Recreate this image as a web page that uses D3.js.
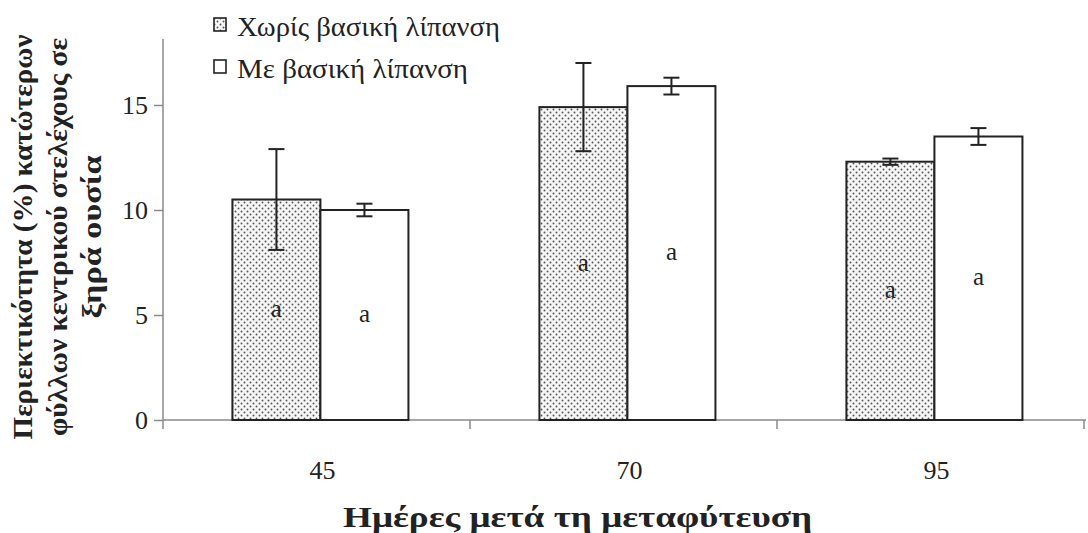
<!DOCTYPE html>
<html><head><meta charset="utf-8">
<script src="https://cdn.jsdelivr.net/npm/d3@7"></script>
<style>html,body{margin:0;padding:0;background:#fff;}svg{display:block;}</style>
</head><body>
<svg id="chart" width="1088" height="533"></svg>
<script>
const categories = ["45", "70", "95"];
const seriesNames = ["Χωρίς βασική λίπανση", "Με βασική λίπανση"];
const valuesWithout = [10.5, 14.9, 12.3];
const errorsWithout = [2.4, 2.1, 0.15];
const valuesWith = [10.0, 15.9, 13.5];
const errorsWith = [0.3, 0.4, 0.4];
const lettersWithout = ["a", "a", "a"];
const lettersWith = ["a", "a", "a"];
const yTicks = [0, 5, 10, 15];
const yTitleLines = ["Περιεκτικότητα (%) κατώτερων", "φύλλων κεντρικού στελέχους σε", "ξηρά ουσία"];
const xTitle = "Ημέρες μετά τη μεταφύτευση";

const svg = d3.select("#chart");
const FONT = "'Liberation Serif', 'Times New Roman', 'DejaVu Serif', serif";
const pLeft = 163, pRight = 1084, pTop = 39, pBottom = 420;

const defs = svg.append("defs");
const pat = defs.append("pattern").attr("id", "dots").attr("patternUnits", "userSpaceOnUse")
  .attr("width", 6).attr("height", 6);
pat.append("rect").attr("width", 6).attr("height", 6).attr("fill", "#f6f6f6");
pat.append("circle").attr("cx", 1.5).attr("cy", 1.5).attr("r", 0.95).attr("fill", "#555");
pat.append("circle").attr("cx", 4.5).attr("cy", 4.5).attr("r", 0.95).attr("fill", "#555");

const x = d3.scaleBand().domain(categories).range([pLeft, pRight]).padding(0);
const xs = d3.scaleBand().domain(seriesNames).range([0, x.bandwidth()]).paddingInner(0).paddingOuter(0.744).align(0.53);
const y = d3.scaleLinear().domain([0, 18]).range([pBottom, 42]);

const data = [];
categories.forEach((c, i) => {
  data.push({cat: c, s: seriesNames[0], v: valuesWithout[i], e: errorsWithout[i], l: lettersWithout[i]});
  data.push({cat: c, s: seriesNames[1], v: valuesWith[i], e: errorsWith[i], l: lettersWith[i]});
});

// axes
const axisColor = "#8a8a8a";
svg.append("line").attr("x1", pLeft).attr("x2", pLeft).attr("y1", pTop).attr("y2", pBottom + 9)
  .attr("stroke", axisColor).attr("stroke-width", 1.5);
svg.append("line").attr("x1", pLeft).attr("x2", pRight + 2).attr("y1", pBottom).attr("y2", pBottom)
  .attr("stroke", axisColor).attr("stroke-width", 1.5);

const yAxis = d3.axisLeft(y).tickValues(yTicks).tickSize(9).tickPadding(6).tickFormat(d3.format("d"));
const yg = svg.append("g").attr("transform", `translate(${pLeft},0)`).call(yAxis);
yg.select(".domain").remove();
yg.selectAll(".tick line").attr("stroke", axisColor).attr("stroke-width", 1.5);
yg.selectAll(".tick text").attr("font-family", FONT).attr("font-size", 26).attr("fill", "#222");

// x boundary ticks
const bounds = categories.map(c => x(c) + x.bandwidth()).slice(0, -1).concat([pRight]);
svg.selectAll(".xb").data(bounds).enter().append("line")
  .attr("x1", d => d).attr("x2", d => d).attr("y1", pBottom).attr("y2", pBottom + 9)
  .attr("stroke", axisColor).attr("stroke-width", 1.5);

svg.selectAll(".xl").data(categories).enter().append("text")
  .attr("x", d => x(d) + xs(seriesNames[1]) + 2).attr("y", 479)
  .attr("text-anchor", "middle").attr("font-family", FONT).attr("font-size", 26).attr("fill", "#222")
  .text(d => d);

// bars
const bars = svg.append("g");
bars.selectAll("rect").data(data).enter().append("rect")
  .attr("x", d => x(d.cat) + xs(d.s))
  .attr("y", d => y(d.v))
  .attr("width", xs.bandwidth())
  .attr("height", d => y(0) - y(d.v))
  .attr("fill", d => d.s === seriesNames[0] ? "url(#dots)" : "#fff")
  .attr("stroke", "#222").attr("stroke-width", 2);

// error bars
const eb = svg.append("g").attr("stroke", "#222").attr("stroke-width", 2);
data.forEach(d => {
  const cx = x(d.cat) + xs(d.s) + xs.bandwidth() / 2;
  eb.append("line").attr("x1", cx).attr("x2", cx).attr("y1", y(d.v + d.e)).attr("y2", y(d.v - d.e));
  [d.v + d.e, d.v - d.e].forEach(v => {
    eb.append("line").attr("x1", cx - 8).attr("x2", cx + 8).attr("y1", y(v)).attr("y2", y(v));
  });
});

// letters
svg.selectAll(".let").data(data).enter().append("text")
  .attr("x", d => x(d.cat) + xs(d.s) + xs.bandwidth() / 2)
  .attr("y", d => y(d.v / 2) + 7)
  .attr("text-anchor", "middle").attr("font-family", FONT).attr("font-size", 25).attr("fill", "#222")
  .text(d => d.l);

// legend
const legendWidths = [263, 231];
const lg = svg.append("g").attr("transform", "translate(213,17)");
seriesNames.forEach((s, i) => {
  const g = lg.append("g").attr("transform", `translate(0,${i * 42})`);
  g.append("rect").attr("x", 1).attr("y", 1).attr("width", 12).attr("height", 13)
    .attr("fill", i === 0 ? "url(#dots)" : "#fff").attr("stroke", "#222").attr("stroke-width", 1.6);
  g.append("text").attr("x", 24).attr("y", 19).attr("font-family", FONT).attr("font-size", 27)
    .attr("textLength", legendWidths[i]).attr("lengthAdjust", "spacingAndGlyphs")
    .attr("fill", "#222").text(s);
});

// y title
const yTitleLengths = [405, 398, 163];
const yt = svg.append("g").attr("transform", "translate(0,237) rotate(-90)");
yTitleLines.forEach((t, i) => {
  yt.append("text").attr("x", -yTitleLengths[i] / 2).attr("y", [32, 67, 101][i])
    .attr("textLength", yTitleLengths[i]).attr("lengthAdjust", "spacingAndGlyphs")
    .attr("font-family", FONT).attr("font-size", 27).attr("font-weight", "bold").attr("fill", "#222").text(t);
});

// x title
svg.append("text").attr("x", 343).attr("y", 527)
  .attr("textLength", 469).attr("lengthAdjust", "spacingAndGlyphs")
  .attr("font-family", FONT).attr("font-size", 29).attr("font-weight", "bold").attr("fill", "#222").text(xTitle);
</script>
</body></html>
